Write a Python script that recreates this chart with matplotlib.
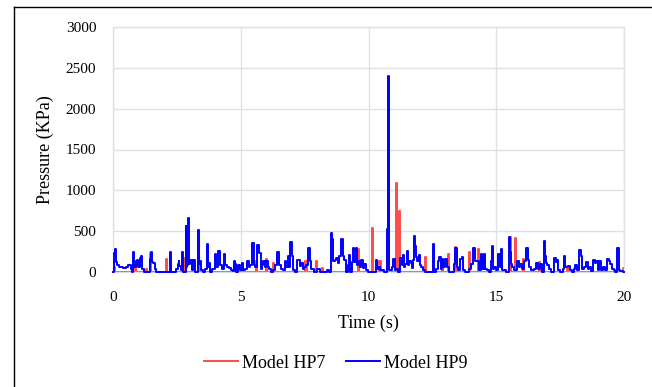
import matplotlib
matplotlib.use("Agg")
import matplotlib.pyplot as plt
from matplotlib.lines import Line2D

# Model HP9 pressure trace (time in s, pressure in KPa), vertices of the recorded line
hp9_time = [
    0.00, 0.05, 0.10, 0.14, 0.20, 0.30, 0.45, 0.55, 0.65, 0.72, 0.78, 0.80, 0.84, 0.93, 0.97,
    1.02, 1.08, 1.13, 1.17, 1.22, 1.45, 1.48, 1.51, 1.55, 1.62, 1.68, 1.72, 2.20, 2.26, 2.30,
    2.45, 2.50, 2.55, 2.58, 2.62, 2.70, 2.73, 2.76, 2.84, 2.86, 2.89, 2.93, 2.96, 2.99, 3.05,
    3.10, 3.17, 3.22, 3.32, 3.35, 3.38, 3.42, 3.47, 3.55, 3.66, 3.69, 3.72, 3.78, 3.84, 3.93,
    4.03, 4.07, 4.16, 4.20, 4.30, 4.38, 4.42, 4.50, 4.58, 4.64, 4.72, 4.75, 4.80, 4.86, 4.95,
    5.00, 5.08, 5.12, 5.20, 5.30, 5.34, 5.42, 5.49, 5.53, 5.62, 5.69, 5.75, 5.80, 5.86, 5.92,
    5.96, 6.05, 6.10, 6.15, 6.20, 6.30, 6.40, 6.47, 6.52, 6.60, 6.68, 6.76, 6.80, 6.86, 6.90,
    6.97, 7.01, 7.06, 7.15, 7.28, 7.33, 7.40, 7.45, 7.52, 7.60, 7.68, 7.72, 7.78, 7.85, 7.92,
    8.05, 8.15, 8.30, 8.42, 8.50, 8.53, 8.56, 8.60, 8.64, 8.70, 8.76, 8.82, 8.90, 8.98, 9.02,
    9.08, 9.15, 9.22, 9.25, 9.30, 9.38, 9.43, 9.47, 9.52, 9.56, 9.65, 9.70, 9.75, 9.80, 9.88,
    9.95, 10.00, 10.30, 10.32, 10.36, 10.42, 10.50, 10.70, 10.75, 10.78, 10.82, 10.88, 10.95, 11.00, 11.05,
    11.14, 11.20, 11.28, 11.32, 11.36, 11.40, 11.48, 11.53, 11.57, 11.62, 11.68, 11.72, 11.78, 11.82, 11.85,
    11.88, 11.94, 11.98, 12.02, 12.10, 12.16, 12.25, 12.50, 12.54, 12.57, 12.70, 12.75, 12.80, 12.84, 12.90,
    12.96, 13.02, 13.10, 13.18, 13.30, 13.36, 13.44, 13.48, 13.55, 13.62, 13.68, 13.72, 13.85, 14.00, 14.05,
    14.16, 14.20, 14.30, 14.36, 14.44, 14.48, 14.55, 14.60, 14.68, 14.75, 14.82, 14.86, 14.90, 14.96, 15.05,
    15.12, 15.16, 15.21, 15.25, 15.35, 15.45, 15.51, 15.55, 15.60, 15.65, 15.75, 15.85, 15.90, 15.98, 16.05,
    16.12, 16.22, 16.26, 16.32, 16.38, 16.45, 16.52, 16.60, 16.68, 16.75, 16.82, 16.88, 16.92, 16.98, 17.03,
    17.10, 17.20, 17.30, 17.35, 17.40, 17.45, 17.55, 17.65, 17.69, 17.73, 17.85, 17.95, 18.00, 18.08, 18.12,
    18.18, 18.30, 18.35, 18.40, 18.48, 18.55, 18.60, 18.68, 18.75, 18.84, 18.88, 18.95, 19.00, 19.08, 19.14,
    19.22, 19.30, 19.39, 19.44, 19.50, 19.56, 19.62, 19.70, 19.78, 19.82, 19.90, 20.00,
]
hp9_kpa = [
    0, 230, 280, 120, 90, 60, 50, 60, 80, 40, 0, 240, 60, 140, 150,
    60, 170, 190, 40, 0, 0, 160, 245, 120, 110, 40, 0, 0, 250, 0,
    0, 40, 100, 135, 70, 30, 245, 0, 0, 565, 60, 80, 660, 100, 150,
    30, 150, 0, 0, 510, 100, 140, 30, 0, 40, 340, 60, 110, 0, 40,
    220, 60, 260, 90, 40, 220, 90, 60, 50, 30, 10, 130, 100, 0, 90,
    30, 110, 20, 40, 140, 60, 90, 350, 80, 60, 325, 230, 40, 90, 130,
    60, 135, 60, 40, 0, 30, 80, 240, 90, 40, 30, 135, 60, 200, 60,
    365, 200, 30, 0, 150, 70, 110, 40, 60, 80, 300, 130, 40, 40, 0,
    40, 0, 0, 20, 0, 380, 480, 410, 140, 150, 170, 110, 200, 410, 200,
    150, 0, 80, 210, 0, 120, 290, 120, 290, 80, 130, 60, 150, 50, 100,
    20, 0, 0, 150, 40, 60, 20, 0, 530, 2400, 30, 20, 60, 160, 20,
    40, 0, 170, 90, 210, 60, 100, 260, 80, 130, 110, 50, 150, 440, 320,
    180, 140, 210, 90, 60, 30, 0, 0, 340, 0, 40, 140, 180, 40, 160,
    60, 160, 60, 0, 0, 100, 290, 60, 30, 160, 180, 30, 0, 40, 100,
    290, 140, 140, 20, 220, 40, 220, 40, 30, 0, 130, 320, 40, 60, 20,
    220, 60, 280, 30, 20, 0, 425, 250, 100, 60, 20, 140, 60, 100, 40,
    140, 300, 150, 60, 30, 20, 40, 110, 40, 100, 0, 385, 200, 110, 90,
    40, 0, 170, 120, 150, 20, 0, 40, 190, 60, 70, 20, 0, 40, 90,
    30, 270, 190, 40, 60, 120, 40, 60, 10, 150, 110, 130, 20, 140, 30,
    60, 20, 160, 130, 100, 40, 20, 0, 290, 30, 10, 0,
]

# Model HP7 pressure trace (time in s, pressure in KPa)
hp7_time = [
    0.00, 0.04, 0.08, 0.84, 0.88, 0.92, 1.26, 1.30, 1.34, 1.44, 1.48, 1.52, 2.05, 2.10, 2.15,
    2.74, 2.78, 2.82, 3.32, 3.36, 3.40, 5.56, 5.60, 5.64, 5.97, 6.01, 6.05, 6.23, 6.27, 6.31,
    7.50, 7.55, 7.60, 7.93, 7.97, 8.01, 8.16, 8.20, 8.24, 9.56, 9.60, 9.64, 10.12, 10.16, 10.20,
    10.41, 10.45, 10.49, 11.06, 11.10, 11.14, 11.19, 11.23, 11.27, 12.21, 12.25, 12.29, 12.86, 12.90, 12.94,
    13.09, 13.13, 13.17, 13.37, 13.41, 13.45, 13.93, 13.97, 14.01, 14.26, 14.30, 14.34, 15.51, 15.55, 15.59,
    15.73, 15.77, 15.81, 16.01, 16.05, 16.09, 16.67, 16.71, 16.75, 17.74, 17.78, 17.82, 19.94, 19.98, 20.00,
]
hp7_kpa = [
    0, 60, 0, 0, 80, 0, 0, 40, 0, 0, 230, 0, 0, 165, 0,
    0, 170, 0, 0, 230, 0, 0, 130, 0, 0, 160, 0, 0, 110, 0,
    0, 130, 0, 0, 130, 0, 0, 50, 0, 0, 280, 0, 0, 535, 0,
    0, 130, 0, 0, 1085, 0, 0, 750, 0, 0, 180, 0, 0, 130, 0,
    0, 220, 0, 0, 310, 0, 0, 250, 0, 0, 280, 0, 0, 430, 0,
    0, 415, 0, 0, 165, 0, 0, 120, 0, 0, 70, 0, 0, 50, 0,
]

x_ticks = [0, 5, 10, 15, 20]
y_ticks = [0, 500, 1000, 1500, 2000, 2500, 3000]

plt.rcParams["font.family"] = ["Liberation Serif", "DejaVu Serif"]

fig = plt.figure(figsize=(6.52, 3.87), dpi=100)
ax = fig.add_axes([113 / 652, 1 - 272 / 387, 511 / 652, 245 / 387])

red = "#FF4B4B"
blue = "#0000FF"
# sampled pressure is held between samples, so draw as steps
ax.plot(hp7_time, hp7_kpa, color=red, lw=1.4, drawstyle="steps-mid",
        label="Model HP7", zorder=2, clip_on=False)
ax.plot(hp9_time, hp9_kpa, color=blue, lw=1.4, drawstyle="steps-mid",
        label="Model HP9", zorder=3, clip_on=False)

ax.set_xlim(0, 20)
ax.set_ylim(0, 3000)
ax.set_xticks(x_ticks)
ax.set_yticks(y_ticks)
ax.grid(True, color="#DDE1E6", lw=1.0, zorder=0)
ax.set_axisbelow(True)
for s in ax.spines.values():
    s.set_color("#DDE1E6")
    s.set_linewidth(1.0)
ax.tick_params(length=0, labelsize=11, colors="black")
ax.tick_params(axis="y", pad=12)
ax.tick_params(axis="x", pad=14)

ax.set_xlabel("Time (s)", fontsize=13)
ax.set_ylabel("Pressure (KPa)", fontsize=13)
ax.xaxis.set_label_coords(0.5, -0.175)
ax.yaxis.set_label_coords(-0.115, 0.5)

fig.legend(loc="center", bbox_to_anchor=(0.515, 0.062), ncol=2, frameon=False,
           fontsize=13, handlelength=1.9, columnspacing=1.15, handletextpad=0.2)

# outer frame: only its top and left edges fall inside the canvas
fig.add_artist(Line2D([14 / 652, 14 / 652], [0, 1 - 7 / 387], color="black", lw=1.0,
                      transform=fig.transFigure))
fig.add_artist(Line2D([14 / 652, 1], [1 - 7 / 387, 1 - 7 / 387], color="black", lw=1.0,
                      transform=fig.transFigure))

fig.savefig("out.png", dpi=100)
